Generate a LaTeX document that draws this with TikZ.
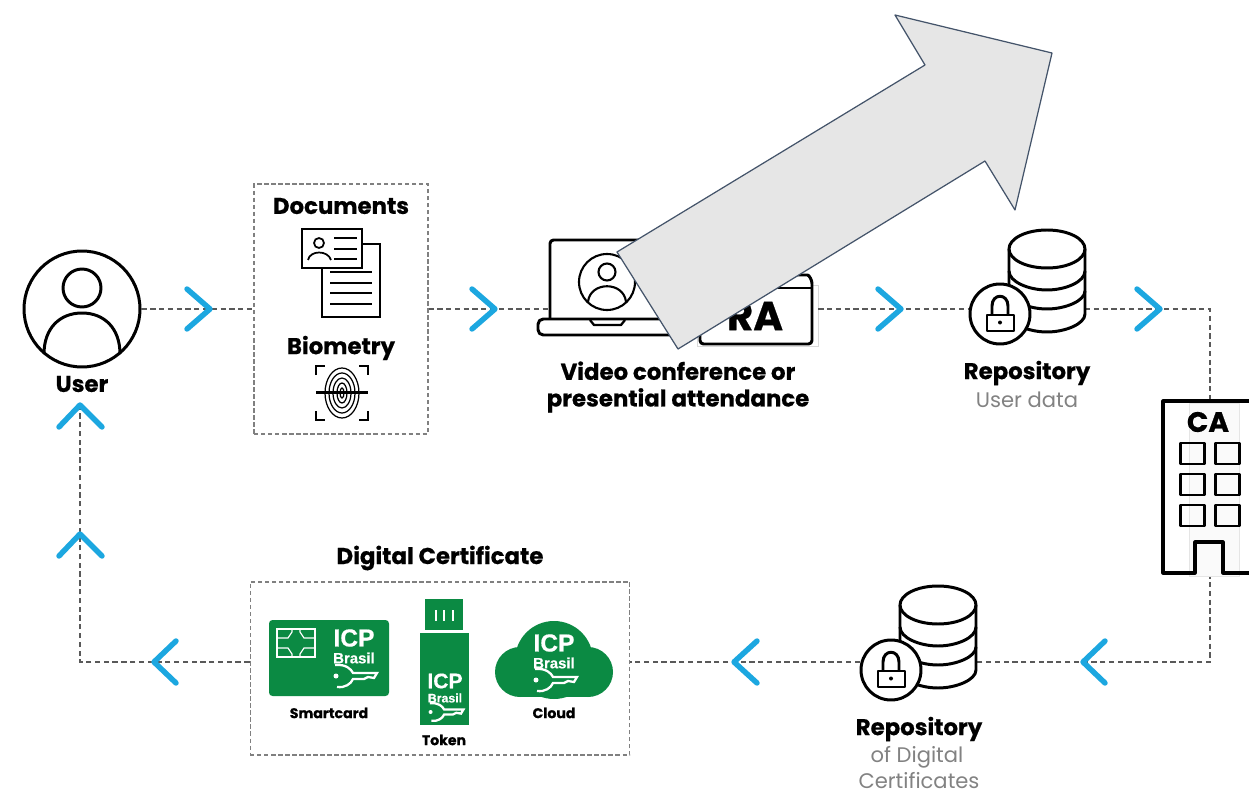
\documentclass[tikz,border=0pt]{standalone}
\usepackage{fontspec}
\setmainfont[BoldFeatures={FakeBold=0.6}]{Poppins}
\newfontfamily\icpfont[BoldFeatures={FakeBold=0.5}]{Liberation Sans}
\usepackage{xcolor}
\definecolor{chevblue}{RGB}{28,167,224}
\definecolor{icpgreen}{RGB}{11,138,67}
\definecolor{arrowgray}{RGB}{230,230,230}
\definecolor{arrowedge}{RGB}{68,84,106}
\definecolor{subgray}{RGB}{130,130,130}
\tikzset{%
    flow/.style={draw=black!65, line width=0.6pt, dash pattern=on 3pt off 2pt},
    boxline/.style={draw=black!50, line width=0.6pt, dash pattern=on 2.5pt off 1.5pt, inner sep=0pt},
    chevron/.style={draw=chevblue, line width=3.1pt, line cap=round, line join=round},
    icon/.style={draw=black, line width=1.7pt, line join=round},
    thinicon/.style={draw=black, line width=1pt},
    bigtext/.style={font=\fontsize{13}{15}\selectfont\bfseries, align=center, inner sep=0pt},
    subtext/.style={font=\fontsize{12}{15}\selectfont, text=subgray, inner sep=0pt},
    smalltext/.style={font=\fontsize{8}{9}\selectfont\bfseries, inner sep=0pt},
    icptext/.style={text=white, inner sep=0pt},
    repoicon/.pic={
        \draw[icon,fill=white] (0,0) ellipse [x radius=38,y radius=19];
        \draw[icon] (-38,0) -- (-38,65) .. controls (-38,75) and (-18,83) .. (0,83)
            .. controls (18,83) and (38,75) .. (38,65) -- (38,0);
        \draw[icon] (-38,22) .. controls (-38,33) and (-18,41) .. (0,41)
            .. controls (18,41) and (38,33) .. (38,22);
        \draw[icon] (-38,42) .. controls (-38,52) and (-18,60) .. (0,60)
            .. controls (18,60) and (38,52) .. (38,42);
        \draw[icon,fill=white] (-47,65) circle (30);
        \draw[icon] (-60,66) rectangle (-33,82);
        \draw[icon] (-55,66) -- (-55,57) .. controls (-55,44) and (-39,44) .. (-39,57) -- (-39,66);
        \fill (-47,73.5) circle (2);
    },
    keyicon/.pic={
        \draw[white,line width=1.3pt] (-19,-11) .. controls (-8,-12) and (-3,-7) .. (-1,-3)
            -- (23,-3) -- (20,2) -- (14,1) -- (10,3) -- (-1,3)
            .. controls (-3,8) and (-9,12) .. (-17,11);
        \fill[white] (-18,0) circle (2.5);
    }
}
\begin{document}
\begin{tikzpicture}[x=0.02cm,y=-0.02cm]
    \useasboundingbox (0,0) rectangle (1249,794);
%-----------------------------------------------
    \node[circle,draw,line width=1.7pt,minimum size=2.32cm,inner sep=0pt] (user) at (82,309) {};
    \node[boxline,minimum width=3.48cm,minimum height=5cm] (docbox) at (341,309) {};
    \node[boxline,minimum width=7.6cm,minimum height=3.46cm] (certbox) at (440,668.5) {};
    \node[draw=black!15,line width=0.4pt,minimum width=2.42cm,minimum height=1.22cm,inner sep=0pt] (ra) at (757.5,316) {};
    \node[minimum width=1.72cm,minimum height=3.44cm,inner sep=0pt] (ca) at (1210,487) {};
    \coordinate (laptop) at (550,309);
    \coordinate (repoin) at (970,309);
    \coordinate (repoout) at (1085,309);
    \coordinate (repotwoin) at (977,662);
    \coordinate (repotwoout) at (860,662);
    \coordinate (cornerne) at (1210,309);
    \coordinate (cornerse) at (1210,662);
    \coordinate (cornersw) at (80,662);
    \coordinate (userbottom) at (80,402);
%-----------------------------------------------
    \draw[flow] (user) -- (docbox);
    \draw[flow] (docbox) -- (laptop);
    \draw[flow] (ra.east |- repoin) -- (repoin);
    \draw[flow] (repoout) -- (cornerne) -- (ca);
    \draw[flow] (ca) -- (cornerse) -- (repotwoin);
    \draw[flow] (repotwoout) -- (certbox.east |- repotwoout);
    \draw[flow] (certbox.west |- repotwoout) -- (cornersw) -- (userbottom);
%-----------------------------------------------
    \draw[chevron] (187,289) -- (210,309) -- (187,329);
    \draw[chevron] (472,289) -- (495,309) -- (472,329);
    \draw[chevron] (878,289) -- (901,309) -- (878,329);
    \draw[chevron] (1137,289) -- (1160,309) -- (1137,329);
    \draw[chevron] (176,641) -- (154,662) -- (176,683);
    \draw[chevron] (757,641) -- (734,662) -- (757,683);
    \draw[chevron] (1105,641) -- (1083,662) -- (1105,683);
    \draw[chevron] (59,427) -- (80,405) -- (102,427);
    \draw[chevron] (59,556) -- (80,534) -- (102,556);
%-----------------------------------------------
    \draw[icon] (82,288) circle (19);
    \draw[icon] (44,354) .. controls (44,328) and (60,313) .. (82,313)
        .. controls (104,313) and (120,328) .. (120,354);
    \node[bigtext] (userlabel) at (82,384) {User};
%-----------------------------------------------
    \node[bigtext] (doclabel) at (341,206) {Documents};
    \draw[thinicon,line width=1.3pt,fill=white] (322,244) rectangle (380,317);
    \draw[thinicon] (330,272) -- (372,272);
    \draw[thinicon,line width=1.5pt] (330,283) -- (372,283);
    \draw[thinicon] (330,293) -- (372,293);
    \draw[thinicon] (330,304) -- (372,304);
    \draw[thinicon,line width=1.3pt,fill=white] (302,229) rectangle (362,268);
    \draw[thinicon] (319,243) circle (5);
    \draw[thinicon] (308,260) .. controls (310,250) and (328,250) .. (331,260);
    \draw[thinicon] (334,238) -- (357,238);
    \draw[thinicon] (334,249) -- (357,249);
    \draw[thinicon] (334,259) -- (357,259);
%-----------------------------------------------
    \node[bigtext] (biolabel) at (341,348) {Biometry};
    \draw[thinicon,line width=0.7pt] (342,393) ellipse [x radius=17,y radius=25];
    \draw[thinicon,line width=0.7pt] (342,393) ellipse [x radius=13,y radius=20];
    \draw[thinicon,line width=0.7pt] (342,393) ellipse [x radius=9,y radius=15];
    \draw[thinicon,line width=0.7pt] (342,393) ellipse [x radius=5,y radius=10];
    \draw[thinicon,line width=0.7pt] (342,393) ellipse [x radius=2,y radius=5];
    \draw[thinicon,line width=1.5pt] (316,392.5) -- (368,392.5);
    \draw[thinicon,line width=1.3pt] (316,375) -- (316,366) -- (325,366);
    \draw[thinicon,line width=1.3pt] (359,366) -- (368,366) -- (368,375);
    \draw[thinicon,line width=1.3pt] (316,411) -- (316,420) -- (325,420);
    \draw[thinicon,line width=1.3pt] (359,420) -- (368,420) -- (368,411);
%-----------------------------------------------
    \draw[icon,fill=white,rounded corners=2pt] (550,319) -- (550,240) -- (670,240) -- (670,319);
    \draw[icon,fill=white,rounded corners=3pt] (538,319) -- (538,335) -- (690,335) -- (690,319) -- cycle;
    \draw[icon,line width=1.3pt] (590,320) -- (594,325) -- (621,325) -- (625,320);
    \draw[icon,line width=1.2pt] (607,282) circle (28);
    \draw[icon,line width=1.2pt] (607,272) circle (8.5);
    \draw[icon,line width=1.2pt] (588,302) .. controls (590,281) and (624,281) .. (626,302);
%-----------------------------------------------
    \draw[icon,fill=white,rounded corners=2pt] (700,344) -- (700,275) -- (804,275)
        .. controls (809,275) and (812,280) .. (812,287) -- (812,344) -- cycle;
    \draw[icon] (700,288) -- (812,288);
    \node[font=\fontsize{23}{23}\selectfont\bfseries,inner sep=0pt] (ralabel) at (755,316) {RA};
    \node[bigtext] (videolabel) at (678,387) {Video conference or\\[0.2pt]presential attendance};
%-----------------------------------------------
    \pic at (1047,249) {repoicon};
    \node[bigtext] (repolabel) at (1027,373) {Repository};
    \node[subtext] (repodata) at (1027,400) {User data};
%-----------------------------------------------
    \draw[draw=black!10,line width=0.4pt,fill=black!2] (1189,403) rectangle (1239,576);
    \draw[icon,line width=1.8pt] (1249,401) -- (1163,401) -- (1163,573) -- (1195,573) -- (1195,542) -- (1223,542) -- (1223,573) -- (1249,573);
    \node[font=\fontsize{16}{16}\selectfont\bfseries,inner sep=0pt] (calabel) at (1208,422) {CA};
    \draw[icon] (1180,443) rectangle (1204,464);
    \draw[icon] (1215,443) rectangle (1239,464);
    \draw[icon] (1180,474) rectangle (1204,495);
    \draw[icon] (1215,474) rectangle (1239,495);
    \draw[icon] (1180,505) rectangle (1204,526);
    \draw[icon] (1215,505) rectangle (1239,526);
%-----------------------------------------------
    \pic at (938,605) {repoicon};
    \node[bigtext] (repotwolabel) at (919,729) {Repository};
    \node[subtext] (repotwodata) at (917,757.5) {of Digital};
    \node[subtext] (repotwomore) at (919,781) {Certificates};
%-----------------------------------------------
    \node[bigtext] (certlabel) at (440,558) {Digital Certificate};
    \fill[icpgreen,rounded corners=2pt] (269,620) rectangle (389,696);
    \draw[white,line width=0.7pt] (277,629) rectangle (315,657);
    \draw[white,line width=0.7pt] (277,638) -- (288,638) -- (292,632) -- (292,629);
    \draw[white,line width=0.7pt] (277,648) -- (288,648) -- (292,654) -- (292,657);
    \draw[white,line width=0.7pt] (315,638) -- (304,638) -- (300,632) -- (300,629);
    \draw[white,line width=0.7pt] (315,648) -- (304,648) -- (300,654) -- (300,657);
    \node[icptext,font=\icpfont\bfseries\fontsize{14}{14}\selectfont] (cardicp) at (354,638) {ICP};
    \node[icptext,font=\icpfont\bfseries\fontsize{8.5}{9}\selectfont] (cardbrasil) at (354,658) {Brasil};
    \pic at (354,676) {keyicon};
    \node[smalltext] (cardlabel) at (329,713) {Smartcard};
%-----------------------------------------------
    \fill[icpgreen] (425,599) rectangle (463,630);
    \fill[icpgreen] (420,633) rectangle (469,725);
    \fill[white] (435,610) rectangle (437,621);
    \fill[white] (443,610) rectangle (445,621);
    \fill[white] (452,610) rectangle (454,621);
    \node[icptext,font=\icpfont\bfseries\fontsize{12}{13}\selectfont] (tokenicp) at (445,681) {ICP};
    \node[icptext,font=\icpfont\bfseries\fontsize{7}{7.5}\selectfont] (tokenbrasil) at (445,698) {Brasil};
    \pic[scale=0.8] at (445,712) {keyicon};
    \node[smalltext] (tokenlabel) at (444,740) {Token};
%-----------------------------------------------
    \fill[icpgreen] (554,660) circle (39);
    \fill[icpgreen] (520,672) circle (25);
    \fill[icpgreen] (588,672) circle (25);
    \fill[icpgreen] (520,670) rectangle (588,697);
    \node[icptext,font=\icpfont\bfseries\fontsize{14}{14}\selectfont] (cloudicp) at (554,643) {ICP};
    \node[icptext,font=\icpfont\bfseries\fontsize{8.5}{9}\selectfont] (cloudbrasil) at (554,663) {Brasil};
    \pic at (554,680) {keyicon};
    \node[smalltext] (cloudlabel) at (554,713) {Cloud};
%-----------------------------------------------
    \draw[draw=arrowedge,line width=0.7pt,fill=arrowgray,line join=round]
        (895,15) -- (1052,53) -- (1015,210) -- (985,161) -- (678,349) -- (617,252) -- (925,65) -- cycle;
\end{tikzpicture}
\end{document}
